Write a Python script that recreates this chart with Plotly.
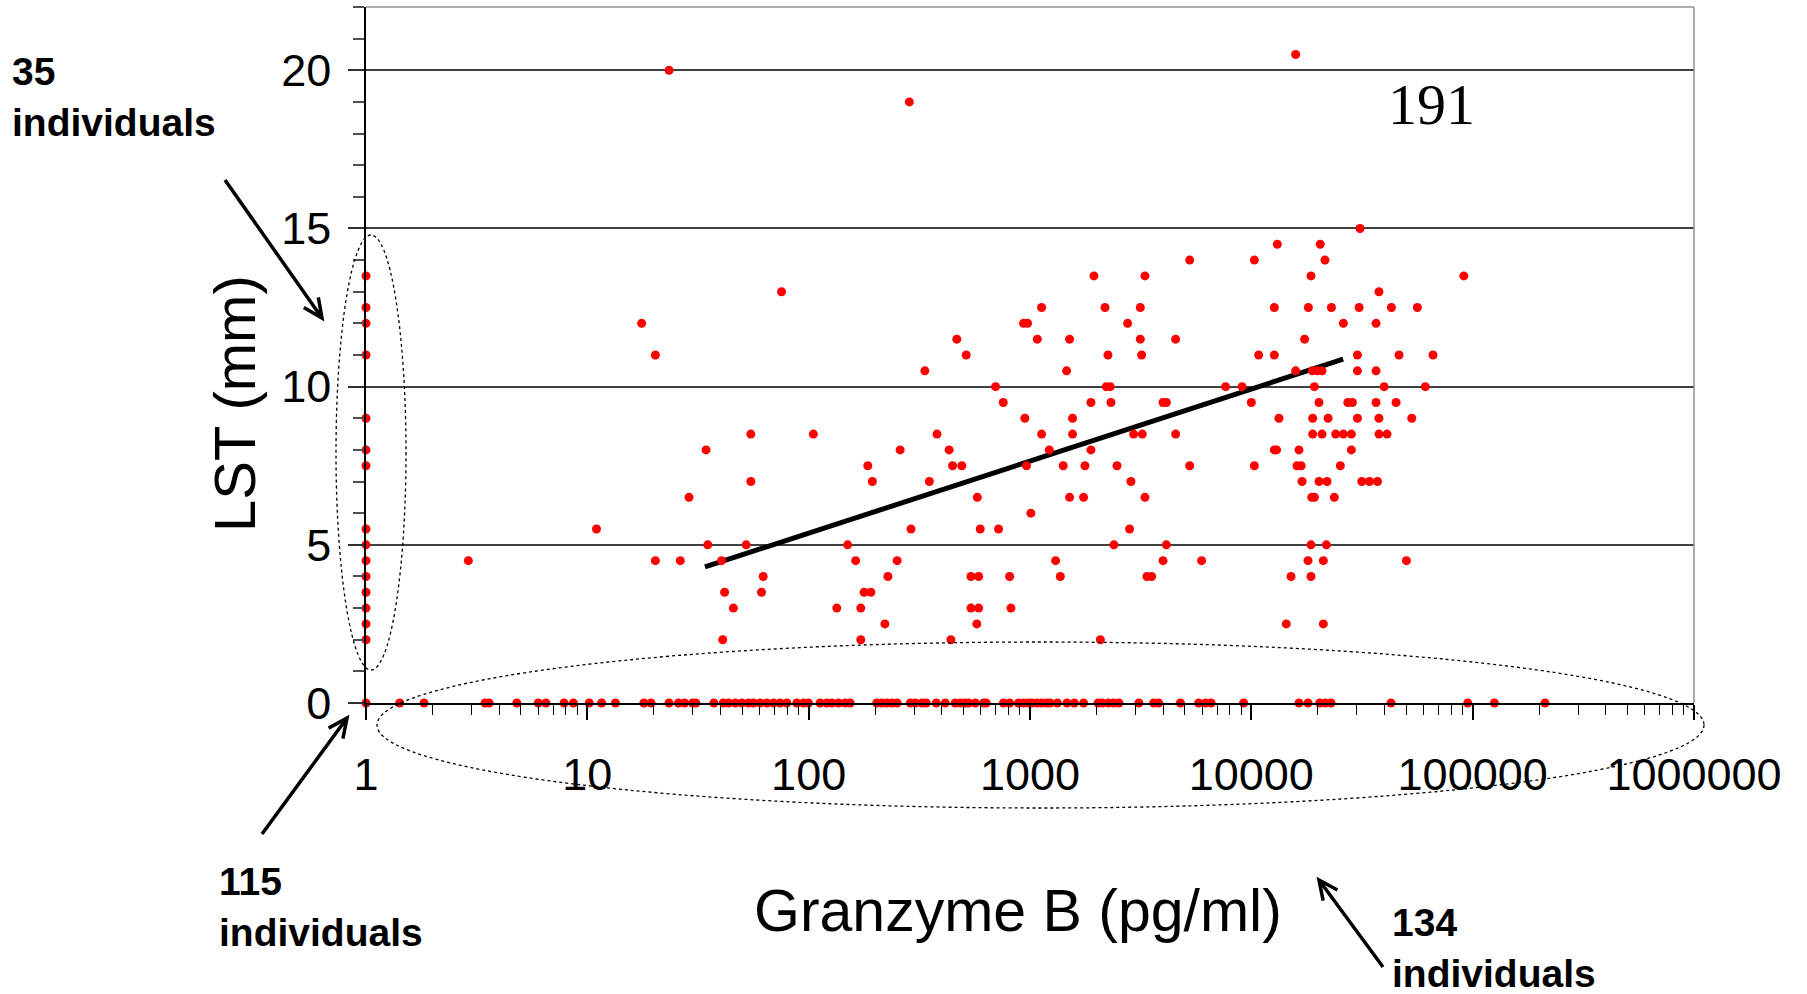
import math
import plotly.graph_objects as go

# ---------------- data ----------------
# individuals with Granzyme B below detection (plotted at 1 pg/ml)
gb_undetect_lst = [13.5, 12.5, 12, 11, 9, 8, 7.5, 5.5, 5, 4.5, 4, 3.5, 3, 2.5, 2, 0]

# individuals with LST = 0 (Granzyme B values, pg/ml)
lst_zero_gb = [1.42, 1.83, 3.45, 3.6, 4.8, 6.0, 6.5, 7.85, 8.65, 10.2, 11.6, 13.4, 18.0, 19.4,
               23.4, 25.8, 27.5, 29.9, 30.9, 37.3, 41.1, 43.4, 46.6, 49.9, 53.5, 56.3, 60.4,
               64.7, 69.4, 74.3, 79.7, 88.4, 94.8, 99.8, 112.7, 120.8, 127.3, 136.4, 146.2,
               154, 203, 214, 226, 238, 251, 288, 303, 325, 340, 377, 414, 459, 484, 509, 527,
               566, 617, 634, 759, 809, 887, 935, 984, 1021, 1074, 1132, 1191, 1233, 1330,
               1469, 1585, 1746, 2032, 2123, 2265, 2388, 2523, 3105, 3620, 3810, 4780, 5780,
               6210, 6580, 9230, 16420, 18030, 20370, 21630, 22910, 42760, 95000, 125400, 212300]

# individuals with both values measurable
gb_pos = [2.9, 11.0, 17.6, 20.3, 23.4, 285, 75.4, 54.8, 105, 34.4, 54.8, 28.8, 35, 52.2, 150,
          20.3, 26.3, 40.4, 163, 62.3, 41.7, 61.2, 45.7, 134, 172, 40.9, 172,
          1945, 3306, 1128, 2182, 3150, 935, 975, 2761, 467, 1079, 1510, 3150, 515, 2250, 3194,
          335, 1463, 699, 2213, 2305, 757, 1885, 2322, 948, 1557, 380, 1128, 1557, 2940, 3217,
          259, 431, 1222, 1885, 185, 447, 492, 964, 1413, 1771, 2472, 194, 351, 2858,
          578, 1510, 1746, 3306, 1009, 290, 596, 721, 2818, 2394, 251, 1305,
          228, 541, 586, 809, 1371, 3377, 3543, 178, 191, 541, 586, 820, 221, 575, 439, 2079,
          15860, 30980, 13100, 20480, 5265, 10320, 21520, 18600, 37720,
          12700, 18100, 23010, 30680, 42950, 56260, 26050, 36600, 4550, 17410,
          10790, 12700, 30150, 46500, 66200, 15860, 18870, 19880, 20860, 30150, 36600,
          7650, 9080, 19270, 39810, 61100, 3990, 4130, 10000, 20220, 27290, 28620, 36600, 45080,
          13330, 18930, 22220, 30150, 37720, 53060,
          4550, 18930, 20860, 24050, 26050, 28310, 37720, 41020,
          12700, 13000, 16420, 28310, 5265, 10320, 16080, 16790, 25240,
          16950, 20220, 21980, 31550, 34180, 37150, 18740, 19270, 23710,
          4130, 18600, 21830, 3990, 5960, 18030, 21150, 50200, 15110, 18600,
          14390, 21150, 91200]
lst_pos = [4.5, 5.5, 12, 11, 20, 19, 13, 8.5, 8.5, 8, 7, 6.5, 5, 5, 5,
           4.5, 4.5, 4.5, 4.5, 4, 3.5, 3.5, 3, 3, 3, 2, 2,
           13.5, 13.5, 12.5, 12.5, 12.5, 12, 12, 12, 11.5, 11.5, 11.5, 11.5, 11, 11, 11,
           10.5, 10.5, 10, 10, 10, 9.5, 9.5, 9.5, 9, 9, 8.5, 8.5, 8.5, 8.5, 8.5,
           8, 8, 8, 8, 7.5, 7.5, 7.5, 7.5, 7.5, 7.5, 7.5, 7, 7, 7,
           6.5, 6.5, 6.5, 6.5, 6, 5.5, 5.5, 5.5, 5.5, 5, 4.5, 4.5,
           4, 4, 4, 4, 4, 4, 4, 3.5, 3.5, 3, 3, 3, 2.5, 2.5, 2, 2,
           20.5, 15, 14.5, 14.5, 14, 14, 14, 13.5, 13,
           12.5, 12.5, 12.5, 12.5, 12.5, 12.5, 12, 12, 11.5, 11.5,
           11, 11, 11, 11, 11, 10.5, 10.5, 10.5, 10.5, 10.5, 10.5,
           10, 10, 10, 10, 10, 9.5, 9.5, 9.5, 9.5, 9.5, 9.5, 9.5, 9.5,
           9, 9, 9, 9, 9, 9,
           8.5, 8.5, 8.5, 8.5, 8.5, 8.5, 8.5, 8.5,
           8, 8, 8, 8, 7.5, 7.5, 7.5, 7.5, 7.5,
           7, 7, 7, 7, 7, 7, 6.5, 6.5, 6.5,
           5, 5, 5, 4.5, 4.5, 4.5, 4.5, 4.5, 4, 4,
           2.5, 2.5, 13.5]

# fitted regression line end points
trend_gb = [34, 26000]
trend_lst = [4.3, 10.87]

x_tick_vals = [1, 10, 100, 1000, 10000, 100000, 1000000]
x_tick_text = ["1", "10", "100", "1000", "10000", "100000", "1000000"]
y_tick_vals = [0, 5, 10, 15, 20]

# ---------------- layout geometry ----------------
W, H = 1807, 994
ML, MR, MT, MB = 366, 113, 7, 291
PW, PH = W - ML - MR, H - MT - MB


def px(x):
    return (x - ML) / PW


def py(y):
    return (H - MB - y) / PH


def arrow_path(x0, y0, x1, y1, head=21, ang=25):
    dx, dy = x1 - x0, y1 - y0
    n = math.hypot(dx, dy)
    ux, uy = -dx / n, -dy / n
    pts = []
    for s in (1, -1):
        a = math.radians(ang * s)
        vx = ux * math.cos(a) - uy * math.sin(a)
        vy = ux * math.sin(a) + uy * math.cos(a)
        pts.append((x1 + head * vx, y1 + head * vy))
    f = lambda x, y: f"{px(x):.5f},{py(y):.5f}"
    return (f"M{f(x0, y0)} L{f(x1, y1)} M{f(*pts[0])} L{f(x1, y1)} L{f(*pts[1])}")


SANS = "Liberation Sans, Arial, sans-serif"
SERIF = "Liberation Serif, Times New Roman, serif"

fig = go.Figure()
fig.add_trace(go.Scatter(x=trend_gb, y=trend_lst, mode="lines",
                         line=dict(color="black", width=5), cliponaxis=False,
                         showlegend=False, hoverinfo="skip"))
marker = dict(color="#FF0000", size=9, line=dict(width=0))
fig.add_trace(go.Scatter(x=gb_pos, y=lst_pos, mode="markers", marker=marker,
                         cliponaxis=False, showlegend=False))
fig.add_trace(go.Scatter(x=lst_zero_gb, y=[0] * len(lst_zero_gb), mode="markers",
                         marker=marker, cliponaxis=False, showlegend=False))
fig.add_trace(go.Scatter(x=[1] * len(gb_undetect_lst), y=gb_undetect_lst, mode="markers",
                         marker=marker, cliponaxis=False, showlegend=False))

minor_x = [k * 10 ** d for d in range(6) for k in range(2, 10)]

fig.update_xaxes(type="log", range=[0, 6], tickmode="array", tickvals=x_tick_vals,
                 ticktext=x_tick_text, ticks="outside", ticklen=15, tickwidth=1.5,
                 tickcolor="black", showline=True, linecolor="black", linewidth=2,
                 showgrid=False, zeroline=False, ticklabelstandoff=16,
                 tickfont=dict(family=SANS, size=45, color="black"),
                 minor=dict(tickmode="array", tickvals=minor_x, ticks="outside",
                            ticklen=10, tickwidth=1, tickcolor="black", showgrid=False))
fig.update_yaxes(range=[0, 22], tickmode="array", tickvals=y_tick_vals, ticks="outside",
                 ticklen=16, tickwidth=1.5, tickcolor="#303030", showline=True,
                 linecolor="black", linewidth=1.5, showgrid=True, gridcolor="#404040",
                 gridwidth=1.5, zeroline=False, ticklabelstandoff=8,
                 tickfont=dict(family=SANS, size=45, color="black"),
                 minor=dict(dtick=1, tick0=0, ticks="outside", ticklen=11, tickwidth=1.5,
                            tickcolor="#505050", showgrid=False))

shapes = [
    dict(type="line", xref="paper", yref="paper", x0=0, x1=1, y0=1, y1=1,
         line=dict(color="#909090", width=1.5)),
    dict(type="line", xref="paper", yref="paper", x0=1, x1=1, y0=0, y1=1,
         line=dict(color="#909090", width=1.5)),
    dict(type="circle", xref="paper", yref="paper", x0=px(336), x1=px(406),
         y0=py(670), y1=py(235), line=dict(color="black", width=1.3, dash="dot")),
    dict(type="circle", xref="paper", yref="paper", x0=px(377), x1=px(1704),
         y0=py(808), y1=py(642), line=dict(color="black", width=1.3, dash="dot")),
]
for (a, b, c, d) in [(225, 180, 322, 318), (262, 834, 347, 718), (1383, 967, 1319, 880)]:
    shapes.append(dict(type="path", xref="paper", yref="paper", path=arrow_path(a, b, c, d),
                       line=dict(color="black", width=3.5)))

annots = [
    dict(text="Granzyme B (pg/ml)", x=px(1018), y=py(911), xanchor="center", yanchor="middle",
         font=dict(family=SANS, size=59, color="black")),
    dict(text="LST (mm)", x=px(234), y=py(404), xanchor="center", yanchor="middle",
         textangle=-90, font=dict(family=SANS, size=58, color="black")),
    dict(text="191", x=px(1431), y=py(105), xanchor="center", yanchor="middle",
         font=dict(family=SERIF, size=58, color="black")),
    dict(text="<b>35</b><br><b>individuals</b>", x=px(10), y=py(97), xanchor="left",
         yanchor="middle", align="left", font=dict(family=SANS, size=39, color="black")),
    dict(text="<b>115</b><br><b>individuals</b>", x=px(217), y=py(907), xanchor="left",
         yanchor="middle", align="left", font=dict(family=SANS, size=39, color="black")),
    dict(text="<b>134</b><br><b>individuals</b>", x=px(1390), y=py(948), xanchor="left",
         yanchor="middle", align="left", font=dict(family=SANS, size=39, color="black")),
]
for a in annots:
    a.update(xref="paper", yref="paper", showarrow=False)

fig.update_layout(width=W, height=H, autosize=False,
                  margin=dict(l=ML, r=MR, t=MT, b=MB, pad=0),
                  paper_bgcolor="white", plot_bgcolor="white",
                  shapes=shapes, annotations=annots, showlegend=False)

fig.write_html("out.html", config={"displayModeBar": False},
               post_script="document.body.style.margin='0';")
